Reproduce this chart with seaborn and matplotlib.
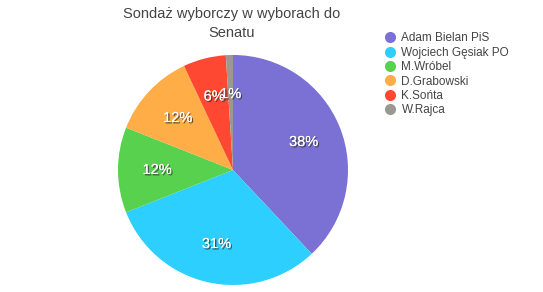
import matplotlib
matplotlib.use("Agg")
import matplotlib.pyplot as plt
import matplotlib.patheffects as pe
from matplotlib.lines import Line2D
import seaborn as sns

sns.set_theme(style="white")
plt.rcParams['font.family'] = ['Liberation Sans', 'DejaVu Sans']

candidates = ["Adam Bielan PiS", "Wojciech Gęsiak PO", "M.Wróbel", "D.Grabowski", "K.Sońta", "W.Rajca"]
shares = [38, 31, 12, 12, 6, 1]
colors = ["#7b70d4", "#2ccffd", "#58d24e", "#ffad47", "#ff4832", "#9b9891"]
title = "Sondaż wyborczy w wyborach do\nSenatu"

fig = plt.figure(figsize=(5.43, 2.92), dpi=100)
ax = fig.add_axes([0.2173, 0.024, 0.4236, 0.7877])
wedges, texts, autotexts = ax.pie(
    shares, colors=colors, startangle=90, counterclock=False,
    autopct=lambda p: f"{p:.0f}%", pctdistance=0.66,
    wedgeprops=dict(linewidth=0), textprops=dict(color="white", fontsize=10.5)
)
for t in autotexts:
    t.set_path_effects([pe.withSimplePatchShadow(offset=(1, -1), shadow_rgbFace="#333333", alpha=0.8), pe.Normal()])
ax.set_xlim(-1, 1)
ax.set_ylim(-1, 1)
ax.set_aspect("equal")

fig.text(0.427, 0.975, title, ha="center", va="top", fontsize=10.5, color="#444444", linespacing=1.4)

handles = [Line2D([0], [0], marker="o", linestyle="", markersize=8, markerfacecolor=c, markeredgewidth=0) for c in colors]
fig.legend(handles, candidates, loc="upper left", bbox_to_anchor=(0.697, 0.905), frameon=False,
           fontsize=8.5, handletextpad=0.35, labelspacing=0.2, labelcolor="#444444", borderaxespad=0, handlelength=1.2)

fig.savefig("out.png", dpi=100)
